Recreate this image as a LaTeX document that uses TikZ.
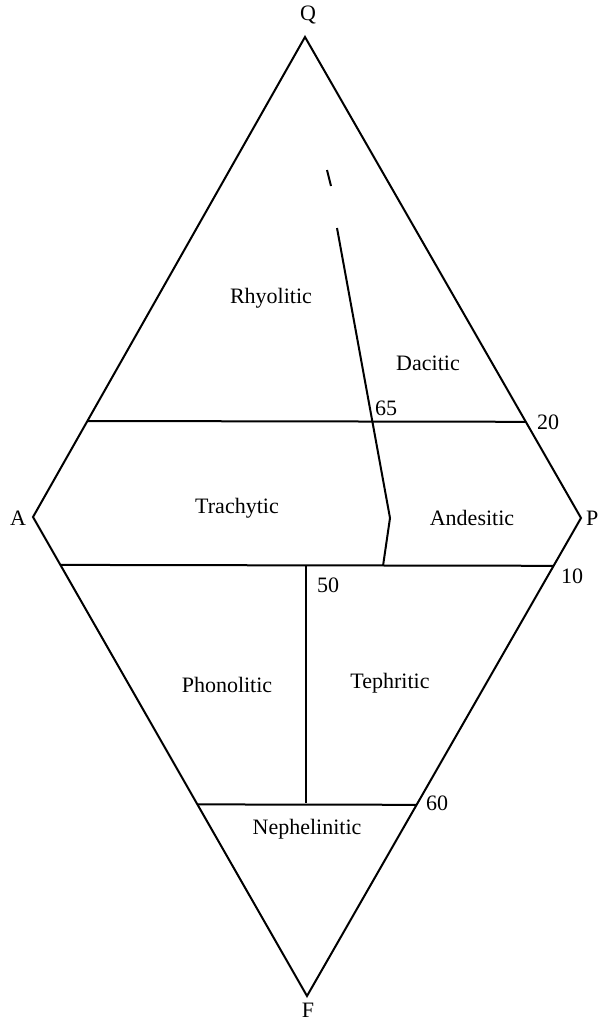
\documentclass[tikz,border=0pt]{standalone}
\usepackage{fontspec}
\setmainfont{Liberation Serif}
\usepackage{tikz}
\usetikzlibrary{calc,positioning}

\begin{document}
\begin{tikzpicture}[
    x=1pt, y=-1pt,
    font=\fontsize{22}{25}\selectfont,
    edge/.style={line width=2pt, line join=miter},
    field/.style={inner sep=0pt, anchor=center},
    tick/.style={inner sep=0pt, anchor=west}
]
\useasboundingbox (0,0) rectangle (600,1022);

% corners of the diamond
\coordinate (Q) at (305,37);
\coordinate (A) at (33,517);
\coordinate (P) at (581,518);
\coordinate (F) at (307,996);

\node[field] (lq) at (308,15) {Q};
\node[field] (la) at (18,518) {A};
\node[field, anchor=west] (lp) at (586,518) {P};
\node[field] (lf) at (308,1010) {F};

\draw[edge] (A) -- (Q) -- (P) -- (F) -- cycle;

% horizontal boundaries
\coordinate (q20a) at ($(A)!0.2!(Q)$);
\coordinate (q20p) at ($(P)!0.2!(Q)$);
\coordinate (f10a) at ($(A)!0.1!(F)$);
\coordinate (f10p) at ($(P)!0.1!(F)$);
\coordinate (f60a) at ($(A)!0.6!(F)$);
\coordinate (f60p) at ($(P)!0.6!(F)$);
\draw[edge] (q20a) -- (q20p);
\draw[edge] (f10a) -- (f10p);
\draw[edge] (f60a) -- (f60p);

% vertical boundary
\coordinate (v50) at (306,566);
\coordinate (v60) at (306,803);
\draw[edge] (v50) -- (v60);

% rhyolite / dacite boundary
\coordinate (d1) at (327,170);
\coordinate (d2) at (331,186);
\coordinate (d3) at (337,228);
\coordinate (d4) at (390,518);
\coordinate (d5) at (383,566);
\draw[edge] (d1) -- (d2);
\draw[edge] (d3) -- (d4) -- (d5);

% fields
\node[field] (rhy) at (271,298) {Rhyolitic};
\node[field] (dac) at (428,363) {Dacitic};
\node[field] (tra) at (237,508) {Trachytic};
\node[field] (and) at (472,518) {Andesitic};
\node[field] (pho) at (227,685) {Phonolitic};
\node[field] (tep) at (390,683) {Tephritic};
\node[field] (nep) at (307,829) {Nephelinitic};

% values
\node[tick] (t65) at (375,408) {65};
\node[tick] (t20) at (537,422) {20};
\node[tick] (t10) at (561,576) {10};
\node[tick] (t50) at (317,585) {50};
\node[tick] (t60) at (426,803) {60};
\end{tikzpicture}
\end{document}
